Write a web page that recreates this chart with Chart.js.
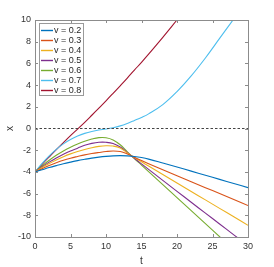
<!DOCTYPE html>
<html>
<head>
<meta charset="utf-8">
<script src="https://cdn.jsdelivr.net/npm/chart.js@4.4.1/dist/chart.umd.min.js"></script>
<style>
html,body{margin:0;padding:0;background:#fff;}
#wrap{position:relative;width:274px;height:267px;}
</style>
</head>
<body>
<div id="wrap"><canvas id="c" width="274" height="267"></canvas></div>
<script>
const times = [0,1,2,3,4,5,6,7,8,9,10,11,12,13,14,15,16,18,20,22,24,26,28,30];
const labels = ['v = 0.2','v = 0.3','v = 0.4','v = 0.5','v = 0.6','v = 0.7','v = 0.8'];
const v02 = [-4.00,-3.80,-3.60,-3.42,-3.25,-3.10,-2.96,-2.84,-2.73,-2.64,-2.57,-2.52,-2.50,-2.52,-2.58,-2.68,-2.82,-3.18,-3.55,-3.93,-4.31,-4.69,-5.07,-5.45];
const v03 = [-4.00,-3.70,-3.42,-3.16,-2.93,-2.74,-2.58,-2.43,-2.31,-2.21,-2.12,-2.07,-2.12,-2.34,-2.65,-2.95,-3.24,-3.80,-4.35,-4.90,-5.45,-6.00,-6.55,-7.10];
const v04 = [-4.00,-3.60,-3.23,-2.90,-2.60,-2.34,-2.12,-1.93,-1.77,-1.65,-1.59,-1.62,-1.80,-2.25,-2.68,-3.07,-3.46,-4.24,-5.02,-5.80,-6.58,-7.36,-8.14,-8.92];
const v05 = [-4.00,-3.53,-3.10,-2.71,-2.37,-2.07,-1.81,-1.55,-1.37,-1.27,-1.27,-1.38,-1.70,-2.20,-2.74,-3.26,-3.77,-4.78,-5.79,-6.80,-7.80,-8.80,-9.80,-10.80];
const v06 = [-4.00,-3.44,-2.93,-2.47,-2.07,-1.72,-1.42,-1.17,-0.97,-0.84,-0.85,-1.05,-1.50,-2.15,-2.77,-3.37,-3.97,-5.17,-6.37,-7.57,-8.77,-9.97,-11.17,-12.37];
const v07 = [-4.00,-3.22,-2.52,-1.92,-1.42,-1.02,-0.70,-0.45,-0.27,-0.14,-0.05,0.07,0.24,0.47,0.74,1.02,1.35,2.20,3.40,4.85,6.50,8.30,10.10,11.90];
const v08 = [-4.00,-3.30,-2.62,-1.95,-1.30,-0.66,-0.05,0.57,1.22,1.88,2.55,3.24,3.94,4.65,5.38,6.10,6.85,8.40,10.00,11.60,13.20,14.80,16.40,18.00];
const xTicks = [0,5,10,15,20,25,30];
const yTicks = [-10,-8,-6,-4,-2,0,2,4,6,8,10];
const zeroLine = [0,0];
const zeroT = [0,30];

const colors = ['#0072BD','#D95319','#EDB120','#7E2F8E','#77AC30','#4DBEEE','#A2142F'];
const series = [v02,v03,v04,v05,v06,v07,v08];

const datasets = series.map((s,i)=>({
  label: labels[i],
  data: s.map((y,k)=>({x:times[k], y:y})),
  borderColor: colors[i],
  borderWidth: 1.1,
  pointRadius: 0,
  fill: false,
  tension: 0.4,
  clip: 0
}));
datasets.unshift({
  label: 'zero',
  data: zeroT.map((t,k)=>({x:t,y:zeroLine[k]})),
  borderColor: '#444',
  borderWidth: 1.1,
  borderDash: [2.5,2],
  pointRadius: 0,
  fill: false,
  clip: 0
});

const FONT = 'Liberation Sans, Arial, Helvetica, sans-serif';

const boxPlugin = {
  id: 'box',
  afterDraw(chart){
    const ctx = chart.ctx;
    const a = chart.chartArea;
    const xs = chart.scales.x, ys = chart.scales.y;
    ctx.save();
    ctx.strokeStyle = '#8c8c8c';
    ctx.lineWidth = 1;
    ctx.strokeRect(Math.round(a.left)+0.5, Math.round(a.top)+0.5, Math.round(a.right-a.left), Math.round(a.bottom-a.top));
    ctx.beginPath();
    xTicks.forEach(v=>{
      const p = Math.round(xs.getPixelForValue(v))+0.5;
      ctx.moveTo(p, a.bottom); ctx.lineTo(p, a.bottom-3);
      ctx.moveTo(p, a.top); ctx.lineTo(p, a.top+3);
    });
    yTicks.forEach(v=>{
      const p = Math.round(ys.getPixelForValue(v))+0.5;
      ctx.moveTo(a.left, p); ctx.lineTo(a.left+3, p);
      ctx.moveTo(a.right, p); ctx.lineTo(a.right-3, p);
    });
    ctx.stroke();
    // legend
    const lx = a.left+4, ly = a.top+3, lw = 44, lh = 72;
    ctx.fillStyle = '#fff';
    ctx.fillRect(lx+0.5, ly+0.5, lw, lh);
    ctx.strokeStyle = '#9a9a9a';
    ctx.strokeRect(lx+0.5, ly+0.5, lw, lh);
    ctx.font = '9px ' + FONT;
    ctx.textBaseline = 'middle';
    ctx.textAlign = 'left';
    labels.forEach((lab,i)=>{
      const y = ly + 7.5 + i*10;
      ctx.strokeStyle = colors[i];
      ctx.lineWidth = 1.4;
      ctx.beginPath();
      ctx.moveTo(lx+2, y); ctx.lineTo(lx+14, y);
      ctx.stroke();
      ctx.fillStyle = '#262626';
      ctx.fillText(lab, lx+15, y+0.5);
    });
    ctx.restore();
  }
};

new Chart(document.getElementById('c'), {
  type: 'line',
  data: { datasets },
  options: {
    responsive: false,
    animation: false,
    layout: { padding: { top: 20, right: 26, left: 0, bottom: 0 } },
    plugins: { legend: { display: false }, tooltip: { enabled: false } },
    scales: {
      x: {
        type: 'linear', min: 0, max: 30,
        afterBuildTicks: s => { s.ticks = xTicks.map(v=>({value:v})); },
        afterFit: s => { s.height = 30; },
        grid: { display: false, drawTicks: false },
        border: { display: false },
        ticks: { padding: 4, color: '#333', font: { size: 9, family: FONT }, maxRotation: 0 },
        title: { display: true, text: 't', color: '#333', font: { size: 10, family: FONT }, padding: { top: 1, bottom: 0 } }
      },
      y: {
        type: 'linear', min: -10, max: 10,
        afterBuildTicks: s => { s.ticks = yTicks.map(v=>({value:v})); },
        afterFit: s => { s.width = 35; },
        grid: { display: false, drawTicks: false },
        border: { display: false },
        ticks: { padding: 4, color: '#333', font: { size: 9, family: FONT } },
        title: { display: true, text: 'x', color: '#333', font: { size: 10, family: FONT }, padding: { top: 4, bottom: 2 } }
      }
    }
  },
  plugins: [boxPlugin]
});
</script>
</body>
</html>
